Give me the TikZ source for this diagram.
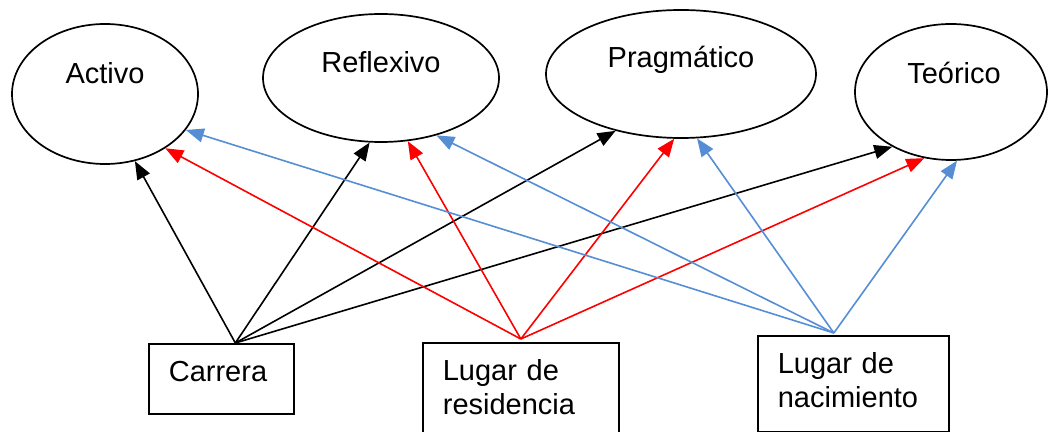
\documentclass[tikz,border=0pt]{standalone}
\usepackage{fontspec}
\setmainfont{Liberation Sans}
\usetikzlibrary{shapes.geometric,arrows.meta}
\definecolor{azul}{RGB}{85,142,213}

\begin{document}
\begin{tikzpicture}[x=0.5pt, y=-0.5pt,
        font=\fontsize{14.5pt}{17pt}\selectfont,
        elip/.style={draw, ellipse, line width=0.85pt, inner sep=0pt, text height=10pt},
        caja/.style={draw, line width=0.85pt, anchor=north west, align=left,
                     inner xsep=10pt, inner ysep=4pt, text height=15pt},
        flecha/.style={line width=0.8pt, -{Triangle[length=9pt, width=7pt]}}]
    \useasboundingbox (0,0) rectangle (1050,432);
    % estilos de aprendizaje
    \node[elip, minimum width=93pt, minimum height=70pt, text depth=20.6pt] (act) at (105,94) {Activo\hspace{6pt}};
    \node[elip, minimum width=118pt, minimum height=64pt, text depth=15.6pt] (ref) at (381,78) {Reflexivo\hspace{3pt}};
    \node[elip, minimum width=135pt, minimum height=64pt, text depth=16.1pt] (pra) at (681,74) {Pragmático};
    \node[elip, minimum width=96pt, minimum height=68pt, text depth=18.6pt] (teo) at (951,92) {\hspace{3pt}Teórico};
    % variables
    \node[caja, text width=52.5pt, text depth=12pt] (car) at (148,343) {Carrera};
    \node[caja, text width=78pt, text depth=37pt] (res) at (422,342) {Lugar de\\residencia};
    \node[caja, text width=75.5pt, text depth=25pt] (nac) at (757,335) {Lugar de\\nacimiento};
    \coordinate (pcar) at ([xshift=7pt]car.north);
    \coordinate (pres) at ([yshift=1.5pt]res.north);
    \coordinate (pnac) at ([xshift=-9.75pt, yshift=1pt]nac.north);
    % flechas
    \draw[flecha, black] (pcar) -- (act.-66);
    \draw[flecha, black] (pcar) -- (ref.-100);
    \draw[flecha, black] (pcar) -- (pra.-139);
    \draw[flecha, black] (pcar) -- (teo.-137);
    \draw[flecha, red] (pres) -- (act.-42);
    \draw[flecha, red] (pres) -- (ref.-67);
    \draw[flecha, red] (pres) -- (pra.-96);
    \draw[flecha, red] (pres) -- (teo.-112);
    \draw[flecha, azul] (pnac) -- (act.-24);
    \draw[flecha, azul] (pnac) -- (ref.-46);
    \draw[flecha, azul] (pnac) -- (pra.-76);
    \draw[flecha, azul] (pnac) -- (teo.-85);
\end{tikzpicture}
\end{document}
